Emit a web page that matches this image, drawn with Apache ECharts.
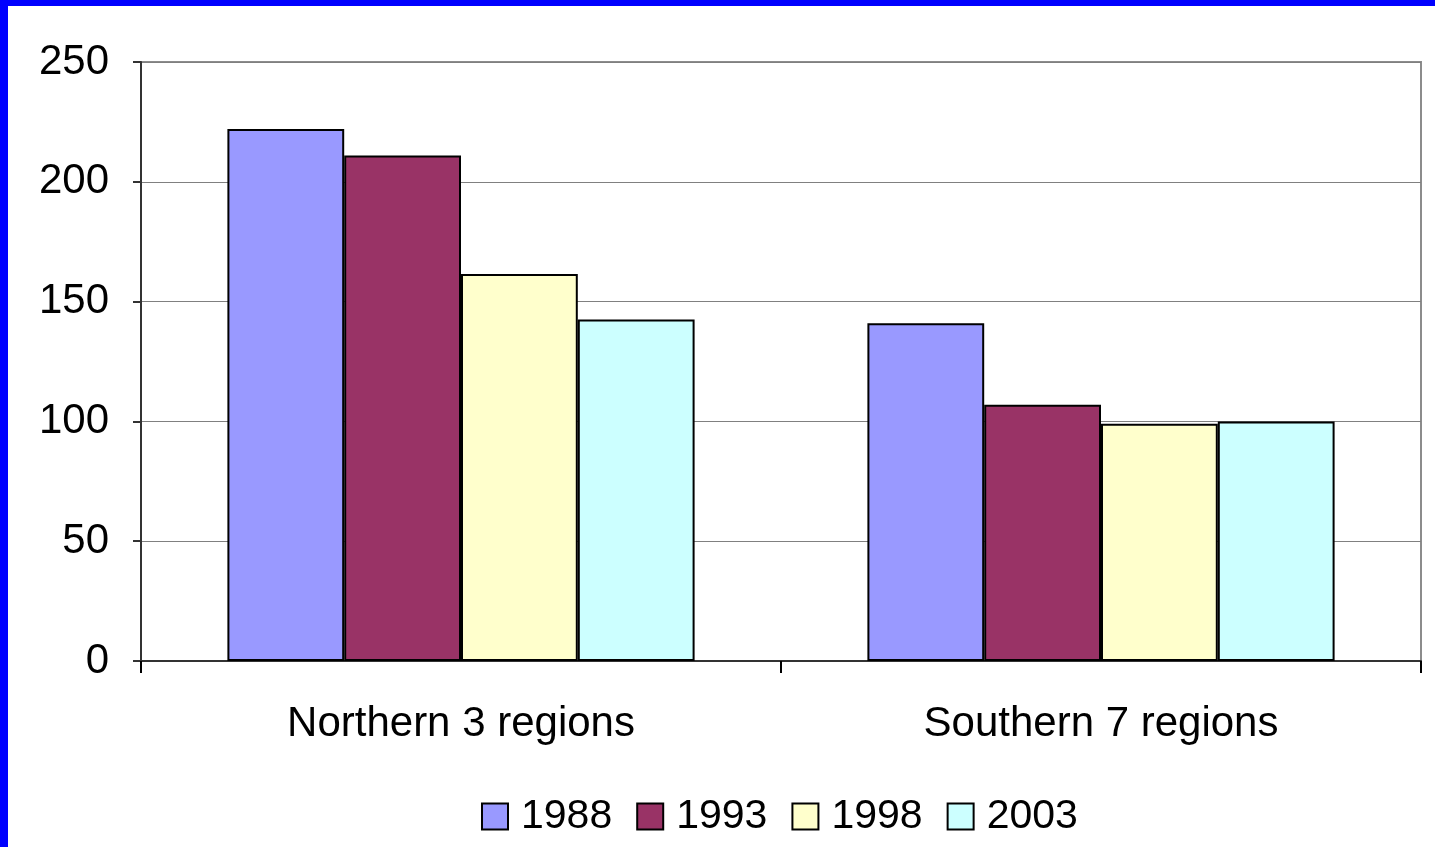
<!DOCTYPE html>
<html>
<head>
<meta charset="utf-8">
<script src="https://cdn.jsdelivr.net/npm/echarts@6/dist/echarts.min.js"></script>
<style>
  html, body { margin: 0; padding: 0; background: #ffffff; }
  #frame {
    width: 1427px;
    height: 841px;
    border-left: 8px solid #0000ff;
    border-top: 6px solid #0000ff;
    background: #ffffff;
  }
  #chart { width: 1427px; height: 841px; }
</style>
</head>
<body>
<div id="frame"><div id="chart"></div></div>
<script>
  // data
  var categories = ['Northern 3 regions', 'Southern 7 regions']
  var years = ['1988', '1993', '1998', '2003']
  var values1988 = [222, 141]
  var values1993 = [211, 107]
  var values1998 = [161.5, 99]
  var values2003 = [142.5, 100]
  var yTicks = [0, 50, 100, 150, 200, 250]

  var colors = ['#9999ff', '#993366', '#ffffcc', '#ccffff']
  var seriesData = [values1988, values1993, values1998, values2003]

  var font = 'Liberation Sans, Arial, sans-serif'

  var myChart = echarts.init(document.getElementById('chart'))

  var series = years.map(function (y, i) {
    return {
      name: y,
      type: 'bar',
      data: seriesData[i],
      barGap: '0%',
      barCategoryGap: '27%',
      itemStyle: {
        color: colors[i],
        borderColor: '#000000',
        borderWidth: 2
      }
    }
  })

  myChart.setOption({
    animation: false,
    color: colors,
    grid: {
      left: 133,
      top: 56,
      right: 14,
      bottom: 186,
      show: true,
      borderColor: '#8c8c8c',
      borderWidth: 2,
      backgroundColor: 'transparent'
    },
    legend: {
      data: years,
      left: 468,
      top: 785,
      itemWidth: 26,
      itemHeight: 26,
      itemGap: 24,
      icon: 'rect',
      itemStyle: { borderColor: '#000000', borderWidth: 2 },
      textStyle: { fontFamily: font, fontSize: 41, color: '#000000', padding: [0, 0, 0, 8] }
    },
    xAxis: {
      type: 'category',
      data: categories,
      axisLine: { lineStyle: { color: '#333333', width: 2 } },
      axisTick: { show: true, length: 12, lineStyle: { color: '#000000', width: 2 } },
      axisLabel: { fontFamily: font, fontSize: 42, color: '#000000', margin: 42 }
    },
    yAxis: {
      type: 'value',
      min: yTicks[0],
      max: yTicks[yTicks.length - 1],
      interval: 50,
      axisLine: { show: true, lineStyle: { color: '#333333', width: 2 } },
      axisTick: { show: true, length: 8, lineStyle: { color: '#333333', width: 2 } },
      splitLine: { show: true, lineStyle: { color: '#808080', width: 1 } },
      axisLabel: { fontFamily: font, fontSize: 42, color: '#000000', margin: 32 }
    },
    series: series
  })
</script>
</body>
</html>
